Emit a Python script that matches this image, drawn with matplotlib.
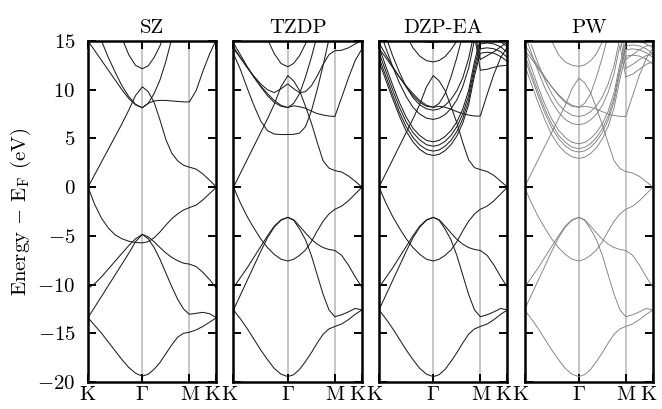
import numpy as np
import matplotlib
matplotlib.use("Agg")
import matplotlib.pyplot as plt
from matplotlib.transforms import ScaledTranslation

plt.rcParams['font.family'] = 'cmr10'
plt.rcParams['mathtext.fontset'] = 'cm'
plt.rcParams['axes.formatter.use_mathtext'] = True

nan = np.nan

# k-path: K -> Gamma -> M -> K
KPTS = [0.0, 0.125, 0.25, 0.375, 0.5, 0.625, 0.75, 0.875, 1.0,
        1.108, 1.217, 1.325, 1.433, 1.541, 1.65, 1.758, 1.866,
        1.991, 2.116, 2.241, 2.366]
KTICKS = [0.0, 1.0, 1.866, 2.366]
KLABELS = ["K", r"$\Gamma$", "M", "K"]
ETICKS = [-20, -15, -10, -5, 0, 5, 10, 15]
ELABELS = [r"$-20$", r"$-15$", r"$-10$", r"$-5$", r"$0$", r"$5$", r"$10$", r"$15$"]
TITLES = ["SZ", "TZDP", "DZP-EA", "PW"]

# ---- SZ ----
sz_s1 = [-13.4, -14.2, -15.0, -15.9, -16.8, -17.7, -18.5, -19.1, -19.4, -19.2, -18.7, -18.0, -17.1, -16.2, -15.4, -15.0, -14.9, -14.65, -14.3, -13.85, -13.4]
sz_s2 = [-13.4, -12.3, -11.2, -10.1, -9.0, -7.9, -6.8, -5.6, -4.85, -5.3, -6.2, -7.4, -8.8, -10.2, -11.5, -12.5, -13.05, -12.95, -12.85, -13.0, -13.4]
sz_s3 = [-10.4, -9.9, -9.2, -8.4, -7.6, -6.8, -6.0, -5.3, -4.85, -5.1, -5.6, -6.2, -6.75, -7.2, -7.55, -7.8, -7.9, -8.15, -8.75, -9.5, -10.4]
sz_pv = [0, -1.8, -3.2, -4.2, -4.9, -5.3, -5.55, -5.68, -5.72, -5.6, -5.2, -4.6, -3.9, -3.25, -2.75, -2.35, -2.1, -1.85, -1.3, -0.65, 0]
sz_pc = [0, 1.3, 2.6, 3.9, 5.2, 6.5, 7.9, 9.4, 10.3, 9.8, 8.7, 6.9, 4.9, 3.5, 2.7, 2.25, 2.05, 1.85, 1.35, 0.7, 0]
sz_c1 = [15.0, 14.0, 13.0, 12.0, 11.0, 10.0, 9.1, 8.45, 8.15, 8.6, 9.6, 11.0, 12.9, 15.2, nan, nan, nan, nan, nan, nan, nan]
sz_c2 = [nan, 16.8, 15.0, 13.3, 11.8, 10.4, 9.3, 8.5, 8.15, 8.6, 8.85, 8.9, 8.9, 8.85, 8.8, 8.75, 8.75, 9.9, 11.9, 13.7, 15.2]
sz_p12 = [nan, nan, nan, nan, 17.5, 15.3, 13.6, 12.5, 12.15, 12.45, 13.3, 14.5, 16.2, nan, nan, nan, nan, nan, nan, nan, nan]

# ---- valence bands, TZDP / DZP-EA / PW ----
v_s1 = [-12.6, -13.5, -14.5, -15.6, -16.7, -17.7, -18.6, -19.2, -19.45, -19.25, -18.7, -17.9, -17.0, -16.0, -15.1, -14.55, -14.3, -14.05, -13.6, -13.05, -12.6]
v_s2 = [-12.6, -11.1, -9.6, -8.1, -6.6, -5.2, -4.1, -3.4, -3.1, -3.4, -4.3, -5.4, -7.0, -9.0, -11.0, -12.6, -13.3, -13.1, -12.8, -12.45, -12.6]
v_s3 = [-10.3, -9.3, -8.3, -7.2, -6.1, -5.0, -4.0, -3.35, -3.1, -3.35, -4.0, -4.7, -5.35, -5.85, -6.2, -6.4, -6.5, -7.0, -8.0, -9.2, -10.3]
v_pv = [0, -1.6, -3.0, -4.2, -5.3, -6.2, -6.9, -7.4, -7.58, -7.4, -7.0, -6.45, -5.6, -4.5, -3.5, -2.75, -2.27, -1.95, -1.4, -0.7, 0]

# ---- TZDP conduction ----
t_pc = [0, 1.4, 2.8, 4.2, 5.6, 7.0, 8.5, 10.3, 11.45, 10.9, 9.9, 8.3, 6.6, 4.6, 2.7, 1.95, 1.7, 1.55, 1.15, 0.6, 0]
t_c1 = [14.8, 13.6, 12.4, 11.3, 10.3, 9.4, 8.7, 8.3, 8.17, 8.6, 9.6, 11.3, 13.3, 15.6, nan, nan, nan, nan, nan, nan, nan]
t_c2 = [14.2, 13.3, 12.3, 11.3, 10.4, 9.6, 8.9, 8.4, 8.17, 8.35, 8.25, 8.1, 7.8, 7.55, 7.4, 7.3, 7.25, 9.2, 11.2, 13.0, 14.2]
t_b = [13.7, 12.1, 10.2, 8.4, 6.8, 5.8, 5.45, 5.4, 5.4, 5.42, 5.55, 6.2, 7.8, 10.0, 12.5, 15.2, nan, nan, nan, nan, nan]
t_d = [14.4, 13.3, 12.3, 11.4, 10.6, 10.0, 9.7, 10.1, 10.6, 10.1, 9.7, 9.8, 10.4, 11.4, 12.6, 13.6, 14.0, 14.05, 14.3, 14.7, 15.1]
t_p12 = [nan, nan, nan, nan, 17.0, 15.2, 13.7, 12.7, 12.35, 12.7, 13.5, 14.7, 16.3, nan, nan, nan, nan, nan, nan, nan, nan]

# ---- DZP-EA conduction ----
e_pc = [0, 1.4, 2.8, 4.2, 5.6, 7.0, 8.5, 10.3, 11.45, 10.9, 9.9, 8.3, 6.6, 4.6, 2.8, 2.0, 1.8, 1.6, 1.2, 0.6, 0]
e_c1 = [14.8, 13.6, 12.4, 11.3, 10.3, 9.4, 8.7, 8.3, 8.2, 8.6, 9.6, 11.3, 13.3, 15.6, nan, nan, nan, nan, nan, nan, nan]
e_c2 = [14.2, 13.3, 12.3, 11.3, 10.4, 9.6, 8.9, 8.4, 8.2, 8.3, 8.2, 8.0, 7.75, 7.55, 7.4, 7.3, 7.3, 9.5, 11.6, 13.3, 14.4]
e_n1 = [14.4, 12.4, 10.5, 8.7, 7.2, 6.05, 5.3, 4.8, 4.65, 4.8, 5.2, 5.8, 6.7, 8.0, 9.9, 12.9, 15.2, 15.3, 15.2, 14.9, 14.4]
e_n2 = [13.8, 11.9, 10.0, 8.2, 6.7, 5.6, 4.85, 4.35, 4.2, 4.33, 4.7, 5.3, 6.2, 7.5, 9.4, 12.4, 14.7, 14.8, 14.7, 14.4, 13.8]
e_n3 = [13.3, 11.4, 9.5, 7.7, 6.2, 5.1, 4.33, 3.86, 3.7, 3.82, 4.2, 4.8, 5.7, 7.0, 8.9, 11.9, 14.2, 14.3, 14.2, 13.9, 13.3]
e_n4 = [12.9, 11.0, 9.1, 7.3, 5.75, 4.65, 3.87, 3.41, 3.25, 3.37, 3.75, 4.35, 5.25, 6.55, 8.45, 11.45, 13.75, 13.85, 13.75, 13.4, 12.9]
e_p7 = [16.3, 14.3, 12.4, 10.7, 9.3, 8.2, 7.5, 7.08, 6.95, 7.1, 7.45, 8.05, 8.95, 10.3, 12.2, 15.1, nan, nan, nan, nan, nan]
e_p8 = [nan, 15.5, 13.5, 11.8, 10.3, 9.2, 8.45, 8.03, 7.9, 8.03, 8.4, 9.0, 9.9, 11.2, 13.2, 16.0, nan, nan, nan, nan, nan]
e_p13 = [nan, nan, nan, 17.2, 15.6, 14.3, 13.45, 12.98, 12.85, 13.0, 13.4, 14.1, 15.0, 16.3, nan, nan, nan, nan, nan, nan, nan]
e_p15 = [nan, nan, nan, nan, 15.6, 15.3, 15.05, 14.9, 14.85, 14.92, 15.1, 15.4, nan, nan, nan, nan, nan, nan, nan, nan, nan]
e_r1 = [nan, nan, nan, nan, nan, nan, nan, nan, nan, nan, nan, nan, nan, nan, nan, 15.6, 12.0, 12.1, 12.3, 12.45, 12.5]
e_r2 = [nan, nan, nan, nan, nan, nan, nan, nan, nan, nan, nan, nan, nan, nan, nan, 16.0, 13.1, 13.5, 13.9, 14.4, 14.9]

# ---- PW conduction ----
w_pc = [0, 1.4, 2.8, 4.2, 5.6, 7.0, 8.4, 10.1, 11.2, 10.7, 9.7, 8.1, 6.4, 4.5, 2.7, 1.9, 1.6, 1.45, 1.1, 0.55, 0]
w_c1 = [14.7, 13.5, 12.4, 11.3, 10.3, 9.4, 8.7, 8.3, 8.2, 8.6, 9.6, 11.3, 13.3, 15.6, nan, nan, nan, nan, nan, nan, nan]
w_c2 = [14.1, 13.2, 12.2, 11.2, 10.3, 9.5, 8.85, 8.4, 8.2, 8.3, 8.2, 8.0, 7.75, 7.5, 7.35, 7.27, 7.25, 9.4, 11.5, 13.2, 14.3]
w_n1 = [14.3, 12.3, 10.3, 8.5, 7.0, 5.85, 5.1, 4.6, 4.45, 4.58, 5.0, 5.6, 6.5, 7.8, 9.7, 12.7, 15.0, 15.1, 15.0, 14.7, 14.3]
w_n2 = [13.7, 11.7, 9.8, 8.0, 6.5, 5.35, 4.6, 4.1, 3.95, 4.08, 4.47, 5.1, 6.0, 7.3, 9.2, 12.2, 14.5, 14.6, 14.5, 14.2, 13.7]
w_n3 = [13.3, 11.3, 9.4, 7.6, 6.1, 5.0, 4.23, 3.76, 3.6, 3.72, 4.1, 4.7, 5.6, 6.9, 8.8, 11.8, 14.1, 14.2, 14.1, 13.8, 13.3]
w_n4 = [12.6, 10.6, 8.7, 6.9, 5.4, 4.3, 3.57, 3.11, 2.95, 3.07, 3.45, 4.05, 4.95, 6.25, 8.15, 11.15, 13.45, 13.55, 13.45, 13.15, 12.6]
w_p64 = [15.8, 13.8, 11.9, 10.2, 8.8, 7.7, 6.95, 6.53, 6.4, 6.53, 6.9, 7.5, 8.4, 9.75, 11.65, 14.6, nan, nan, nan, nan, nan]
w_p72 = [nan, 14.6, 12.7, 11.0, 9.6, 8.5, 7.8, 7.38, 7.25, 7.38, 7.75, 8.35, 9.25, 10.6, 12.5, 15.4, nan, nan, nan, nan, nan]
w_p124 = [nan, nan, nan, 17.2, 15.0, 13.6, 12.85, 12.5, 12.4, 12.55, 12.95, 13.7, 14.9, 16.4, nan, nan, nan, nan, nan, nan, nan]
w_p148 = [nan, nan, nan, nan, nan, 16.8, 15.6, 15.0, 14.8, 14.95, 15.45, 16.3, nan, nan, nan, nan, nan, nan, nan, nan, nan]
w_r1 = [nan, nan, nan, nan, nan, nan, nan, nan, nan, nan, nan, nan, nan, nan, nan, 14.5, 11.3, 11.6, 12.1, 12.6, 12.9]
w_r2 = [nan, nan, nan, nan, nan, nan, nan, nan, nan, nan, nan, nan, nan, nan, nan, 15.5, 12.2, 12.6, 13.1, 13.5, 13.7]
w_r3 = [nan, nan, nan, nan, nan, nan, nan, nan, nan, nan, nan, nan, nan, nan, nan, 16.5, 13.1, 13.6, 14.1, 14.5, 14.6]

valence = [v_s1, v_s2, v_s3, v_pv]
panels = [
    [sz_s1, sz_s2, sz_s3, sz_pv, sz_pc, sz_c1, sz_c2, sz_p12],
    valence + [t_pc, t_c1, t_c2, t_b, t_d, t_p12],
    valence + [e_pc, e_c1, e_c2, e_n1, e_n2, e_n3, e_n4, e_p7, e_p8,
               e_p13, e_p15, e_r1, e_r2],
    valence + [w_pc, w_c1, w_c2, w_n1, w_n2, w_n3, w_n4, w_p64, w_p72,
               w_p124, w_p148, w_r1, w_r2, w_r3],
]
colors = ["#1e1e1e", "#1e1e1e", "#1e1e1e", "#808080"]
widths = [0.75, 0.75, 0.75, 0.65]

W, H = 662, 409
fig = plt.figure(figsize=(W / 100, H / 100), dpi=100)
lefts = [88, 233.5, 379, 524.5]
pw, bot, top = 128.5, 382, 41

for i, bands in enumerate(panels):
    ax = fig.add_axes([lefts[i] / W, (H - bot) / H, pw / W, (bot - top) / H])
    for x in KTICKS[1:3]:
        ax.axvline(x, color="#c2c2c2", lw=1.3, zorder=0)
    for b in bands:
        ax.plot(KPTS, b, color=colors[i], lw=widths[i])
    ax.set_xlim(KTICKS[0], KTICKS[-1])
    ax.set_ylim(-20, 15)
    ax.set_yticks(ETICKS)
    ax.set_yticklabels(ELABELS)
    ax.set_xticks(KTICKS)
    ax.set_xticklabels(KLABELS)
    ax.tick_params(axis="both", direction="in", length=6, width=1.4,
                   top=True, right=True, labelsize=15)
    ax.tick_params(axis="x", pad=3)
    ax.tick_params(axis="y", pad=9)
    if i > 0:
        ax.tick_params(axis="y", labelleft=False)
    for s in ax.spines.values():
        s.set_linewidth(1.8)
    ax.set_title(TITLES[i], fontsize=15, pad=6)
    labels = ax.get_xticklabels()
    shift = ScaledTranslation(-4 / 100, 0, fig.dpi_scale_trans)
    labels[-1].set_transform(labels[-1].get_transform() + shift)
    if i > 0:
        labels[0].set_transform(labels[0].get_transform() + shift)
    if i == 0:
        ax.set_ylabel(r"Energy $-$ $\mathrm{E_F}$ (eV)", fontsize=15, labelpad=3)

fig.savefig("out.png", dpi=100)
